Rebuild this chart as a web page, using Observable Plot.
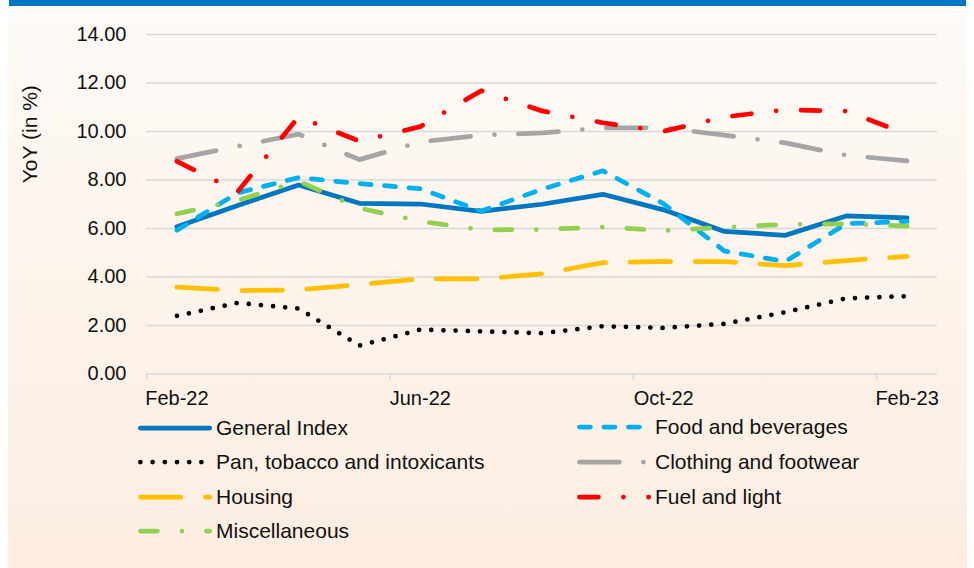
<!DOCTYPE html>
<html>
<head>
<meta charset="utf-8">
<script src="https://cdn.jsdelivr.net/npm/d3@7"></script>
<script src="https://cdn.jsdelivr.net/npm/@observablehq/plot@0.6"></script>
<style>
  html, body { margin: 0; padding: 0; background: #ffffff; }
  body { width: 974px; height: 568px; position: relative; overflow: hidden;
         font-family: "Liberation Sans", Arial, sans-serif; color: #111; }
  #topbar { position: absolute; left: 9px; top: 0; width: 957px; height: 6px; background: #0077c0; }
  #panel { position: absolute; left: 8px; top: 6px; width: 959px; height: 562px;
           background: linear-gradient(to bottom, #fdfaf7 0%, #fdf3ea 55%, #fdede1 100%); }
  #chart { position: absolute; left: 0; top: 0; }
  .leg { position: absolute; height: 30px; display: flex; align-items: center; font-size: 21px; white-space: nowrap; }
  .leg svg { display: block; margin-right: 3px; }
</style>
</head>
<body>
<div id="topbar"></div>
<div id="panel"></div>
<div id="chart"></div>
<div id="legend"></div>
<script>
// ---- data ----
const months = ["Feb-22","Mar-22","Apr-22","May-22","Jun-22","Jul-22","Aug-22","Sep-22","Oct-22","Nov-22","Dec-22","Jan-23","Feb-23"];
const generalIndex = [6.07, 6.95, 7.79, 7.04, 7.01, 6.71, 7.00, 7.41, 6.77, 5.88, 5.72, 6.52, 6.44];
const foodBeverages = [5.93, 7.47, 8.10, 7.85, 7.64, 6.72, 7.62, 8.38, 7.02, 5.07, 4.64, 6.20, 6.29];
const panTobacco = [2.40, 2.93, 2.70, 1.17, 1.83, 1.76, 1.68, 1.97, 1.90, 2.07, 2.55, 3.12, 3.21];
const clothingFootwear = [8.88, 9.39, 9.89, 8.84, 9.57, 9.85, 9.94, 10.15, 10.15, 9.85, 9.53, 9.02, 8.79];
const housing = [3.58, 3.44, 3.47, 3.69, 3.92, 3.92, 4.13, 4.59, 4.64, 4.63, 4.47, 4.68, 4.85];
const fuelLight = [8.77, 7.52, 10.60, 9.60, 10.20, 11.68, 10.85, 10.36, 10.01, 10.60, 10.90, 10.84, 9.89];
const miscellaneous = [6.61, 7.16, 7.95, 6.84, 6.30, 5.94, 5.96, 6.06, 5.91, 6.05, 6.17, 6.19, 6.10];
const yTicks = [0, 2, 4, 6, 8, 10, 12, 14];
const xLabelIdx = [0, 4, 8, 12];
const xBoundaries = [-0.5, 3.5, 7.5, 11.5];

// ---- series & styles ----
const series = [
  {name: "General Index", values: generalIndex, stroke: "#0077c0", dash: null},
  {name: "Food and beverages", values: foodBeverages, stroke: "#00b0f0", dash: "11 13.5"},
  {name: "Pan, tobacco and intoxicants", values: panTobacco, stroke: "#000000", dash: "0 12.2"},
  {name: "Clothing and footwear", values: clothingFootwear, stroke: "#a5a5a5", dash: "40 24 0 24"},
  {name: "Housing", values: housing, stroke: "#ffc000", dash: "40.5 24.5"},
  {name: "Fuel and light", values: fuelLight, stroke: "#ff0000", dash: "19 25 0 25"},
  {name: "Miscellaneous", values: miscellaneous, stroke: "#92d050", dash: "17 24.5 0 24.5"}
];
const SW = 4.75;

const lineMarks = series.map(s => Plot.line(
  s.values.map((v, i) => ({i, v})),
  {x: "i", y: "v", stroke: s.stroke, strokeWidth: SW, curve: "linear",
   strokeDasharray: s.dash || undefined, strokeLinecap: "round", strokeLinejoin: "round"}
));

const plot = Plot.plot({
  width: 974,
  height: 420,
  marginLeft: 146,
  marginRight: 37,
  marginTop: 34,
  marginBottom: 46.5,
  style: {background: "transparent", fontFamily: "'Liberation Sans', Arial, sans-serif", color: "#111"},
  x: {type: "linear", domain: [-0.5, 12.5]},
  y: {domain: [0, 14]},
  marks: [
    Plot.gridY(yTicks, {stroke: "#d9d9d9", strokeOpacity: 1, strokeWidth: 1.6}),
    Plot.axisY({ticks: yTicks, tickSize: 0, tickPadding: 20, tickFormat: d => d.toFixed(2), fontSize: 20, label: null}),
    Plot.axisX({ticks: xBoundaries, tickSize: 6, tickFormat: () => "", stroke: "#d9d9d9", strokeOpacity: 1, strokeWidth: 1.6, label: null}),
    Plot.axisX({ticks: xLabelIdx, tickSize: 0, tickPadding: 17, tickFormat: i => months[i], fontSize: 20, label: null}),
    ...lineMarks,
    Plot.text(["YoY (in %)"], {frameAnchor: "left", rotate: -90, dx: -116, dy: -21, fontSize: 21, fill: "#111"})
  ]
});
document.getElementById("chart").appendChild(plot);

// ---- legend ----
const legendPos = [
  {x: 138, y: 428}, {x: 577, y: 427},
  {x: 138, y: 462}, {x: 577, y: 462},
  {x: 138, y: 497}, {x: 577, y: 497},
  {x: 138, y: 531}
];
const legend = document.getElementById("legend");
series.forEach((s, k) => {
  const p = legendPos[k];
  const div = document.createElement("div");
  div.className = "leg";
  div.style.left = p.x + "px";
  div.style.top = (p.y - 15) + "px";
  const ns = "http://www.w3.org/2000/svg";
  const svg = document.createElementNS(ns, "svg");
  svg.setAttribute("width", 75);
  svg.setAttribute("height", 10);
  const ln = document.createElementNS(ns, "line");
  ln.setAttribute("x1", 2.4); ln.setAttribute("x2", 71.8);
  ln.setAttribute("y1", 5); ln.setAttribute("y2", 5);
  ln.setAttribute("stroke", s.stroke);
  ln.setAttribute("stroke-width", SW);
  ln.setAttribute("stroke-linecap", "round");
  if (s.dash) ln.setAttribute("stroke-dasharray", s.dash);
  svg.appendChild(ln);
  div.appendChild(svg);
  const t = document.createElement("span");
  t.textContent = s.name;
  div.appendChild(t);
  legend.appendChild(div);
});
</script>
</body>
</html>
